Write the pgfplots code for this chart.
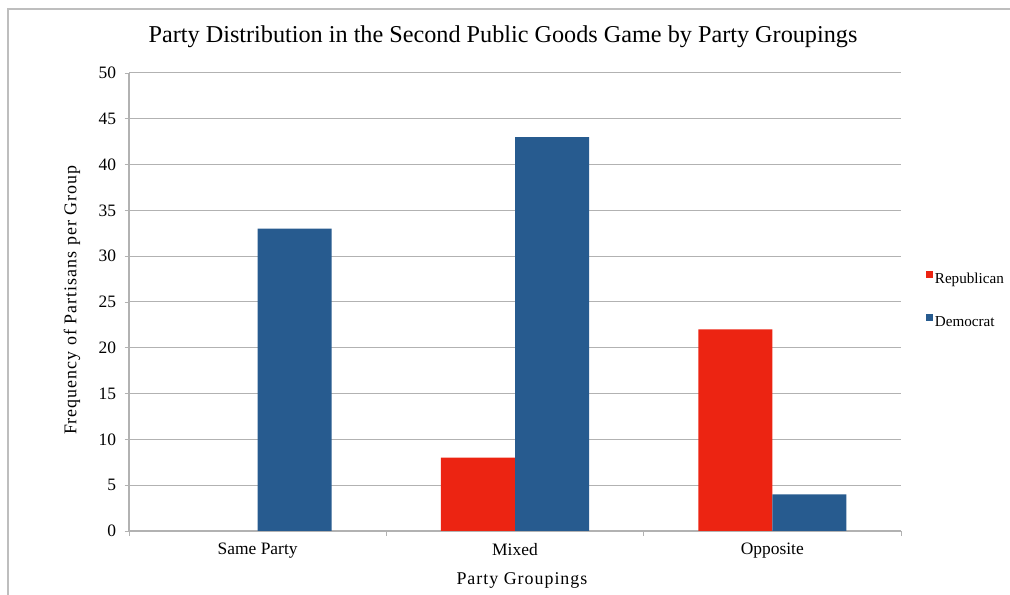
\documentclass[border=0pt]{standalone}
\usepackage{fontspec}
\setmainfont{Liberation Serif}
\usepackage{pgfplots}
\pgfplotsset{compat=1.18}

\definecolor{repred}{RGB}{236,36,18}
\definecolor{demblue}{RGB}{39,91,143}
\definecolor{gridgray}{RGB}{178,178,178}
\definecolor{framegray}{RGB}{190,190,190}

\begin{document}
\begin{tikzpicture}[x=1bp,y=1bp]
\useasboundingbox (0,0) rectangle (1010,595);
% outer frame of the chart
\draw[framegray, line width=1.3bp] (8,-5) -- (8,586) -- (1015,586);
\begin{axis}[
  at={(129bp,64bp)}, anchor=south west,
  scale only axis, width=772bp, height=458bp,
  xmin=-0.5, xmax=2.5, ymin=0, ymax=50,
  ytick={0,5,...,50},
  xtick={0,1,2},
  xticklabels={Same Party, Mixed, Opposite},
  minor xtick={-0.5,0.5,1.5,2.5},
  major x tick style={draw=none},
  tick align=outside,
  major tick length=4.5bp,
  minor tick length=5bp,
  tick style={gridgray, line width=0.9bp},
  axis x line*=bottom, axis y line*=left,
  axis line style={gridgray, line width=1.1bp},
  ymajorgrids, grid style={gridgray, line width=1bp},
  /pgf/number format/assume math mode=true,
  ticklabel style={font=\fontsize{17.5}{20}\selectfont},
  yticklabel style={xshift=-5bp},
  xticklabel style={yshift=-4bp},
  title={Party Distribution in the Second Public Goods Game by Party Groupings},
  title style={font=\fontsize{24.3}{28}\selectfont, at={(axis description cs:0.4845,1.0655)}, anchor=center},
  xlabel={Party Groupings},
  xlabel style={font=\fontsize{18}{20}\selectfont\addfontfeatures{LetterSpace=5.5}, at={(axis description cs:0.509,-0.107)}, anchor=center},
  ylabel={Frequency of Partisans per Group},
  ylabel style={font=\fontsize{18}{20}\selectfont\addfontfeatures{LetterSpace=5.7}, at={(axis description cs:-0.0738,0.504)}, anchor=center, rotate=0},
  legend style={at={(axis description cs:1.032,0.503)}, anchor=west, draw=none, fill=none,
    font=\fontsize{15.2}{17}\selectfont, row sep=27bp, inner sep=0pt,
    nodes={inner xsep=2bp}},
  legend cell align=left,
  clip=false,
]
% the Republican count in the same-party groups is zero, so no bar is drawn there
\addplot[ybar, fill=repred, draw=none, bar width=0.2876, bar shift=-0.1438,
  legend image code/.code={\fill[repred] (0bp,1bp) rectangle (7bp,8bp);}]
  coordinates {(1,8) (2,22)};
\addlegendentry{Republican}
\addplot[ybar, fill=demblue, draw=none, bar width=0.2876, bar shift=0.1438,
  legend image code/.code={\fill[demblue] (0bp,1bp) rectangle (7bp,8bp);}]
  coordinates {(0,33) (1,43) (2,4)};
\addlegendentry{Democrat}
\end{axis}
\end{tikzpicture}
\end{document}
